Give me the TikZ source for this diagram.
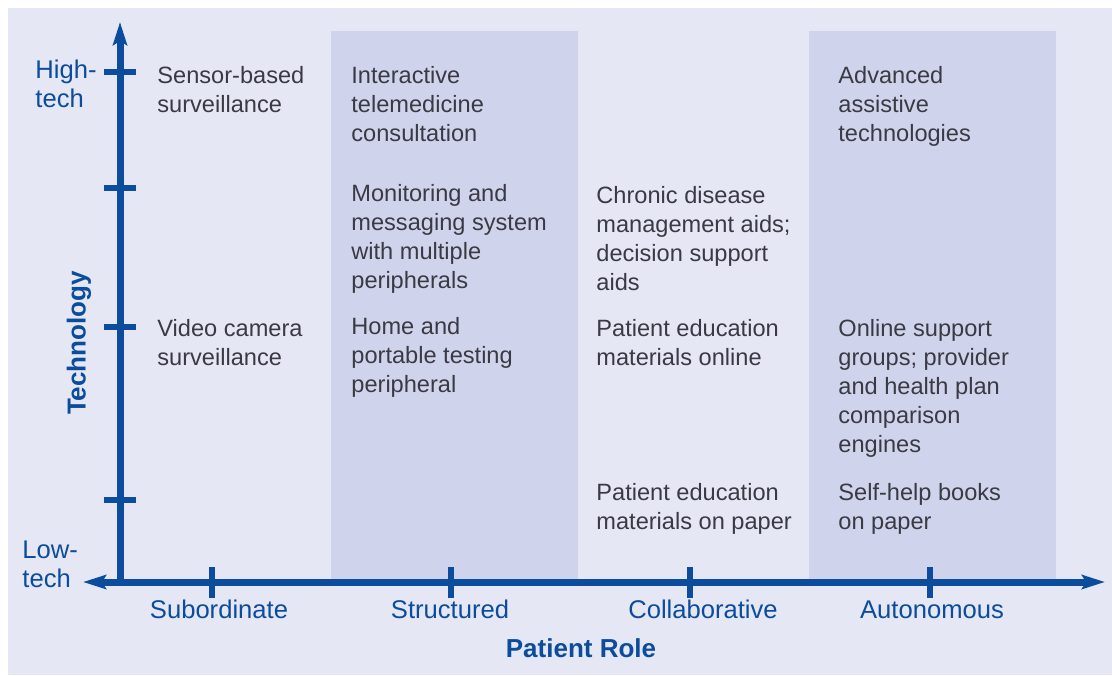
\documentclass[tikz,border=0pt]{standalone}
\usepackage{xcolor}
\usepackage{fontspec}
\setmainfont{Liberation Sans}
\usetikzlibrary{arrows.meta}

\definecolor{panel}{HTML}{E5E7F4}
\definecolor{band}{HTML}{D0D3EC}
\definecolor{axisblue}{HTML}{0B4C9C}
\definecolor{celltext}{HTML}{3A3A44}

\begin{document}
\begin{tikzpicture}[x=0.5pt,y=-0.5pt,
  cell/.style={anchor=base west,inner sep=0pt,align=left,text=celltext,
    font=\fontsize{11.8}{14.5}\selectfont},
  level/.style={anchor=base west,inner sep=0pt,align=left,text=axisblue,
    font=\fontsize{12.8}{14.5}\selectfont},
  role/.style={anchor=base,inner sep=0pt,text=axisblue,
    font=\fontsize{12.8}{14.5}\selectfont},
  axistitle/.style={inner sep=0pt,text=axisblue,
    font=\fontsize{13}{15}\selectfont\bfseries},
  axisline/.style={draw=axisblue,line width=3.5pt},
  tick/.style={draw=axisblue,line width=3.2pt}]
\useasboundingbox (0,0) rectangle (1112,675);
\fill[white] (0,0) rectangle (1112,675);
\fill[panel] (8,8) rectangle (1112,675);

% shaded role columns
\fill[band] (331,31) rectangle (578,582);
\fill[band] (809,31) rectangle (1056,582);

% axes
\coordinate (origin) at (120,582);
\coordinate (ytop) at (120,22);
\coordinate (xleft) at (83,582);
\coordinate (xright) at (1105,582);
\draw[axisline,-{Stealth[length=11.5pt,width=7pt,inset=2pt]}] (origin) -- (ytop);
\draw[axisline,{Stealth[length=11.5pt,width=7pt,inset=2pt]}-{Stealth[length=11.5pt,width=7pt,inset=2pt]}] (xleft) -- (xright);

% ticks
\foreach \ty in {72,188,327,500}
  \draw[tick] (104,\ty) -- (136,\ty);
\foreach \tx in {212,451,690,930}
  \draw[tick] (\tx,567) -- (\tx,598);

% axis labels (base = last line)
\node[level] (hightech) at (35,107) {High-\\tech};
\node[level] (lowtech) at (22,587) {Low-\\tech};
\node[role] (subordinate) at (219,618) {Subordinate};
\node[role] (structured) at (450,618) {Structured};
\node[role] (collaborative) at (703,618) {Collaborative};
\node[role] (autonomous) at (932,618) {Autonomous};
\node[axistitle,anchor=base] (patientrole) at (581,657) {Patient Role};
\node[axistitle,rotate=90] (technology) at (79,343) {Technology};

% cells (base = last line)
\node[cell] (sensor) at (157,112) {Sensor-based\\surveillance};
\node[cell] (video) at (157,365) {Video camera\\surveillance};
\node[cell] (telemed) at (351,141) {Interactive\\telemedicine\\consultation};
\node[cell] (monitoring) at (351,288) {Monitoring and\\messaging system\\with multiple\\peripherals};
\node[cell] (hometest) at (351,392) {Home and\\portable testing\\peripheral};
\node[cell] (chronic) at (596,290) {Chronic disease\\management aids;\\decision support\\aids};
\node[cell] (eduonline) at (596,365) {Patient education\\materials online};
\node[cell] (edupaper) at (596,529) {Patient education\\materials on paper};
\node[cell] (assistive) at (838,141) {Advanced\\assistive\\technologies};
\node[cell] (support) at (838,452) {Online support\\groups; provider\\and health plan\\comparison\\engines};
\node[cell] (selfhelp) at (838,529) {Self-help books\\on paper};
\end{tikzpicture}
\end{document}
